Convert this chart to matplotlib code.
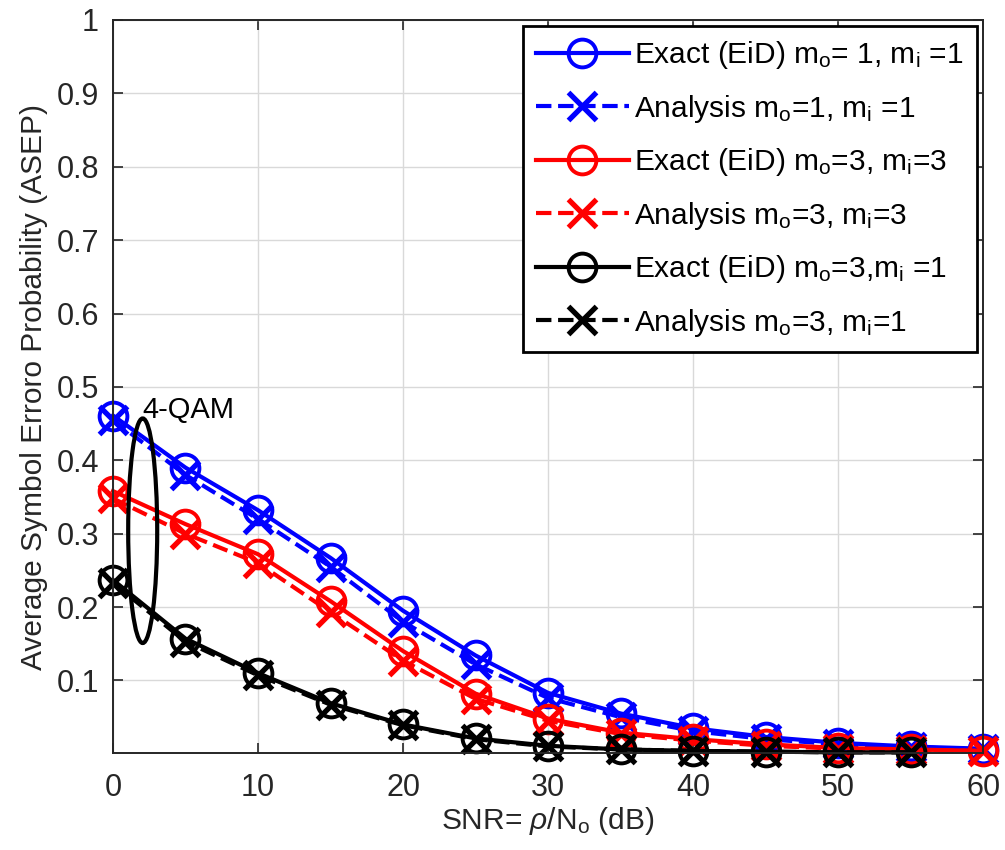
import numpy as np
import matplotlib
matplotlib.use("Agg")
import matplotlib.pyplot as plt
from matplotlib.patches import Ellipse

plt.rcParams['font.family'] = ['Liberation Sans', 'DejaVu Sans']
plt.rcParams['mathtext.fontset'] = 'custom'
plt.rcParams['mathtext.rm'] = 'Liberation Sans'
plt.rcParams['mathtext.it'] = 'Liberation Sans:italic'

# ── data ────────────────────────────────────────────────────────────────────
snr = [0, 5, 10, 15, 20, 25, 30, 35, 40, 45, 50, 55, 60]
snr_k = [0, 5, 10, 15, 20, 25, 30, 35, 40, 45, 50, 55]

exact_11 = [0.461, 0.390, 0.332, 0.267, 0.195, 0.134, 0.083, 0.055, 0.035, 0.023, 0.015, 0.010, 0.007]
anal_11  = [0.455, 0.380, 0.320, 0.255, 0.180, 0.122, 0.076, 0.050, 0.031, 0.020, 0.013, 0.009, 0.006]
exact_33 = [0.358, 0.313, 0.272, 0.208, 0.140, 0.082, 0.048, 0.029, 0.020, 0.013, 0.008, 0.006, 0.004]
anal_33  = [0.348, 0.300, 0.260, 0.193, 0.127, 0.075, 0.045, 0.027, 0.018, 0.011, 0.007, 0.005, 0.004]
exact_31 = [0.237, 0.157, 0.110, 0.069, 0.040, 0.021, 0.011, 0.006, 0.004, 0.003, 0.002, 0.002]
anal_31  = [0.233, 0.153, 0.107, 0.067, 0.039, 0.020, 0.010, 0.006, 0.004, 0.003, 0.002, 0.002]

labels = ['Exact (EiD) m$_{\\rm o}$= 1, m$_{\\rm i}$ =1',
          'Analysis m$_{\\rm o}$=1, m$_{\\rm i}$ =1',
          'Exact (EiD) m$_{\\rm o}$=3, m$_{\\rm i}$=3',
          'Analysis m$_{\\rm o}$=3, m$_{\\rm i}$=3',
          'Exact (EiD) m$_{\\rm o}$=3,m$_{\\rm i}$ =1',
          'Analysis m$_{\\rm o}$=3, m$_{\\rm i}$=1']

fig = plt.figure(figsize=(10.05, 8.5), dpi=100)
ax = fig.add_axes([0.1124, 0.114, 0.866, 0.8625])

lw = 3.0
ms = 20
mew = 2.8
kw = dict(lw=lw, ms=ms, clip_on=False)
ax.plot(snr, exact_11, '-o', color='blue', mew=mew, mfc='none', label=labels[0], **kw)
ax.plot(snr, anal_11, '--x', color='blue', mew=mew + 1, label=labels[1], **kw)
ax.plot(snr, exact_33, '-o', color='red', mew=mew, mfc='none', label=labels[2], **kw)
ax.plot(snr, anal_33, '--x', color='red', mew=mew + 1, label=labels[3], **kw)
ax.plot(snr_k, exact_31, '-o', color='black', mew=mew, mfc='none', label=labels[4], **kw)
ax.plot(snr_k, anal_31, '--x', color='black', mew=mew + 1, label=labels[5], **kw)

# ellipse + annotation
ax.add_patch(Ellipse((2.05, 0.304), 2.0, 0.306, fill=False, ec='black', lw=3.0, zorder=5))
ax.text(2.05, 0.468, '4-QAM', fontsize=21, va='center', ha='left')

ax.set_xlim(0, 60)
ax.set_ylim(0.001, 1)
ax.set_xticks(np.arange(0, 61, 10))
ax.set_yticks(np.round(np.arange(0.1, 1.01, 0.1), 1))
ax.set_yticklabels(['0.1', '0.2', '0.3', '0.4', '0.5', '0.6', '0.7', '0.8', '0.9', '1'])
ax.grid(True, color='#d9d9d9', lw=1.0)
ax.set_axisbelow(True)
ax.tick_params(direction='in', length=7, width=1.2, top=True, right=True,
               labelsize=22, colors='#262626')
ax.tick_params(axis='x', pad=14)
ax.tick_params(axis='y', pad=10)
for s in ax.spines.values():
    s.set_color('#262626')
    s.set_linewidth(1.4)

ax.set_xlabel('SNR= $\\it{\\rho}$/N$_{\\rm o}$ (dB)', fontsize=21.5, color='#262626', labelpad=2)
ax.set_ylabel('Average Symbol Erroro Probability (ASEP)', fontsize=21.5, color='#262626', labelpad=6)

leg = ax.legend(loc='upper right', fontsize=21.5, handlelength=3.1, fancybox=False,
                framealpha=1, edgecolor='black', borderpad=0.45, labelspacing=0.72,
                handletextpad=0.2, borderaxespad=0.2)
leg.get_frame().set_linewidth(2.0)

fig.savefig('out.png', dpi=100)
